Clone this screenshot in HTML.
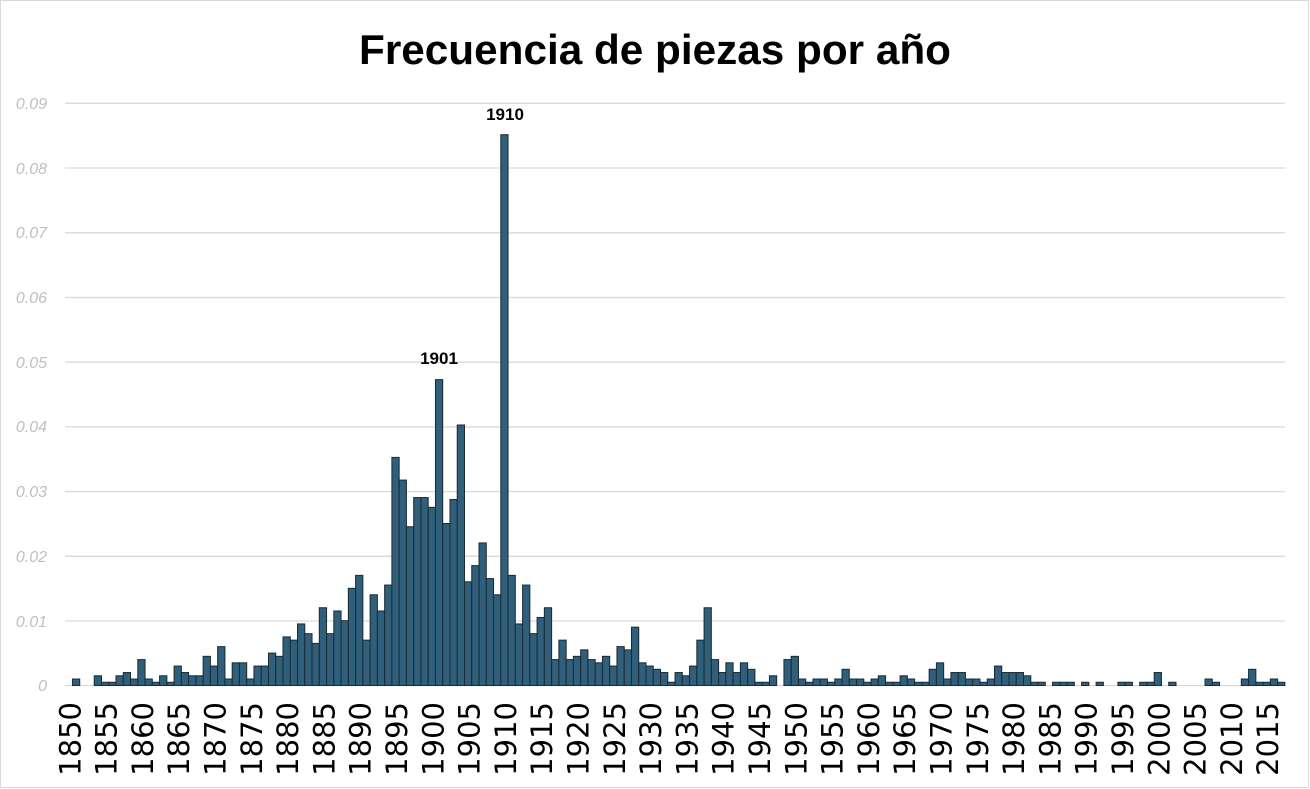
<!DOCTYPE html>
<html><head><meta charset="utf-8"><style>
html,body{margin:0;padding:0;background:#fff;}
svg{display:block;}
</style></head><body>
<svg id="c" width="1310" height="789" viewBox="0 0 1310 789" xmlns="http://www.w3.org/2000/svg">
<rect x="0.5" y="0.5" width="1308" height="787" fill="#fff" stroke="#d9d9d9"/>
<text x="655" y="64" text-anchor="middle" font-family="Liberation Sans, sans-serif" font-weight="bold" font-size="42" textLength="592" lengthAdjust="spacingAndGlyphs">Frecuencia de piezas por año</text>
<g stroke="#d9d9d9" stroke-width="1.3">
<line x1="65" x2="1285" y1="103.3" y2="103.3"/>
<line x1="65" x2="1285" y1="168" y2="168"/>
<line x1="65" x2="1285" y1="232.8" y2="232.8"/>
<line x1="65" x2="1285" y1="297.5" y2="297.5"/>
<line x1="65" x2="1285" y1="362.2" y2="362.2"/>
<line x1="65" x2="1285" y1="426.9" y2="426.9"/>
<line x1="65" x2="1285" y1="491.6" y2="491.6"/>
<line x1="65" x2="1285" y1="556.3" y2="556.3"/>
<line x1="65" x2="1285" y1="621" y2="621"/>
<line x1="65" x2="1285" y1="685.5" y2="685.5"/>
</g>
<g font-family="Liberation Sans, sans-serif" font-style="italic" font-size="16" fill="#bfbfbf" text-anchor="end">
<text x="47" y="109">0.09</text>
<text x="47" y="174">0.08</text>
<text x="47" y="238">0.07</text>
<text x="47" y="303">0.06</text>
<text x="47" y="368">0.05</text>
<text x="47" y="432">0.04</text>
<text x="47" y="497">0.03</text>
<text x="47" y="562">0.02</text>
<text x="47" y="627">0.01</text>
<text x="47" y="691">0</text>
</g>
<g id="bars" fill="#2f5f7a" stroke="#1b2a33" stroke-width="1"></g>
<g font-family="Liberation Sans, sans-serif" font-weight="bold" font-size="17" fill="#000" text-anchor="middle">
<text x="439" y="364">1901</text>
<text x="505" y="120">1910</text>
</g>
<g font-family="DejaVu Sans, Liberation Sans, sans-serif" font-size="29" fill="#000" text-anchor="end">
<text transform="translate(80.3,702) rotate(-90)">1850</text>
<text transform="translate(116.6,702) rotate(-90)">1855</text>
<text transform="translate(152.9,702) rotate(-90)">1860</text>
<text transform="translate(189.2,702) rotate(-90)">1865</text>
<text transform="translate(225.5,702) rotate(-90)">1870</text>
<text transform="translate(261.8,702) rotate(-90)">1875</text>
<text transform="translate(298.1,702) rotate(-90)">1880</text>
<text transform="translate(334.4,702) rotate(-90)">1885</text>
<text transform="translate(370.7,702) rotate(-90)">1890</text>
<text transform="translate(407.0,702) rotate(-90)">1895</text>
<text transform="translate(443.3,702) rotate(-90)">1900</text>
<text transform="translate(479.6,702) rotate(-90)">1905</text>
<text transform="translate(515.9,702) rotate(-90)">1910</text>
<text transform="translate(552.2,702) rotate(-90)">1915</text>
<text transform="translate(588.5,702) rotate(-90)">1920</text>
<text transform="translate(624.8,702) rotate(-90)">1925</text>
<text transform="translate(661.1,702) rotate(-90)">1930</text>
<text transform="translate(697.4,702) rotate(-90)">1935</text>
<text transform="translate(733.7,702) rotate(-90)">1940</text>
<text transform="translate(770.0,702) rotate(-90)">1945</text>
<text transform="translate(806.3,702) rotate(-90)">1950</text>
<text transform="translate(842.6,702) rotate(-90)">1955</text>
<text transform="translate(878.9,702) rotate(-90)">1960</text>
<text transform="translate(915.2,702) rotate(-90)">1965</text>
<text transform="translate(951.5,702) rotate(-90)">1970</text>
<text transform="translate(987.8,702) rotate(-90)">1975</text>
<text transform="translate(1024.1,702) rotate(-90)">1980</text>
<text transform="translate(1060.4,702) rotate(-90)">1985</text>
<text transform="translate(1096.7,702) rotate(-90)">1990</text>
<text transform="translate(1133.0,702) rotate(-90)">1995</text>
<text transform="translate(1169.3,702) rotate(-90)">2000</text>
<text transform="translate(1205.6,702) rotate(-90)">2005</text>
<text transform="translate(1241.9,702) rotate(-90)">2010</text>
<text transform="translate(1278.2,702) rotate(-90)">2015</text>
</g>
</svg>
<script>
// values in 0.001 units, years 1850..2017
var v=[0,1,0,0,1.5,0.5,0.5,1.5,2,1,4,1,0.5,1.5,0.5,3,2,1.5,1.5,4.5,3,6,1,3.5,3.5,1,3,3,5,4.5,7.5,7,9.5,8,6.5,12,8,11.5,10,15,17,7,14,11.5,15.5,
35.2,31.7,24.5,29,29,27.5,47.2,25,28.7,40.2,16,18.5,22,16.5,14,85,
17,9.5,15.5,8,10.5,12,4,7,4,4.5,5.5,4,3.5,4.5,3,6,5.5,9,3.5,3,2.5,2,0.5,2,1.5,3,7,12,4,2,3.5,2,3.5,2.5,0.5,0.5,1.5,0,4,4.5,1,0.5,1,1,0.5,1,2.5,1,1,
0.5,1,1.5,0.5,0.5,1.5,1,0.5,0.5,2.5,3.5,1,2,2,1,1,0.5,1,3,2,2,2,1.5,0.5,0.5,0,0.5,0.5,0.5,0,0.5,0,0.5,0,0,0.5,0.5,0,0.5,0.5,2,0,0.5,0,0,0,0,1,0.5,0,0,0,1,2.5,0.5,0.5,1,0.5];
var g=document.getElementById('bars'),ns='http://www.w3.org/2000/svg',s='';
for(var i=0;i<v.length&&i<168;i++){if(!v[i])continue;var h=v[i]*6.48,x=65.2+7.26*i;
s+='<rect x="'+x.toFixed(2)+'" y="'+(685.5-h).toFixed(2)+'" width="7.26" height="'+h.toFixed(2)+'"/>';}
g.innerHTML=s;
</script>
</body></html>
